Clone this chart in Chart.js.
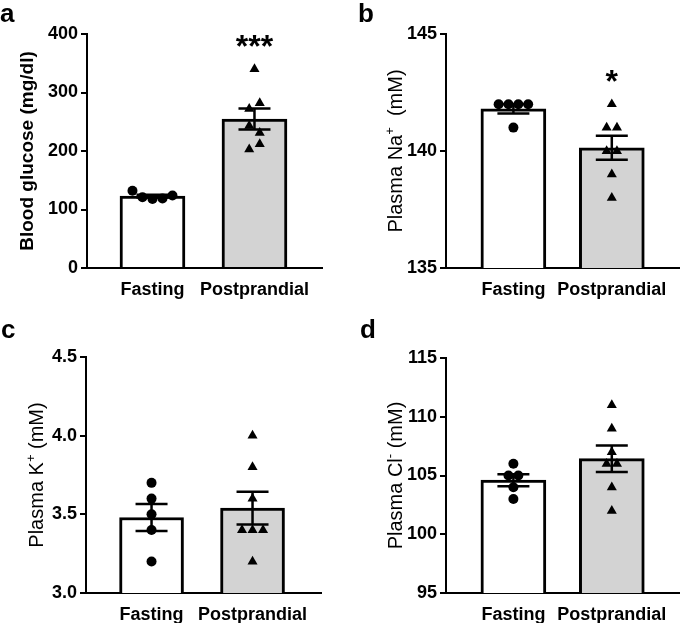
<!DOCTYPE html>
<html><head><meta charset="utf-8">
<script src="https://cdn.jsdelivr.net/npm/chart.js@4.4.1/dist/chart.umd.min.js"></script>
<style>
html,body{margin:0;padding:0;background:#fff;}
#wrap{position:relative;width:685px;height:623px;overflow:hidden;background:#fff;}
canvas{position:absolute;}
.lbl{position:absolute;font:bold 26px "Liberation Sans",Arial,sans-serif;color:#000;line-height:26px;}
</style></head><body>
<div id="wrap">
  <canvas id="cA" style="left:0;top:0"></canvas>
  <canvas id="cB" style="left:342px;top:0"></canvas>
  <canvas id="cC" style="left:0;top:300px"></canvas>
  <canvas id="cD" style="left:342px;top:300px"></canvas>
  <div class="lbl" style="left:0;top:0">a</div>
  <div class="lbl" style="left:358px;top:0">b</div>
  <div class="lbl" style="left:1px;top:316px">c</div>
  <div class="lbl" style="left:360px;top:316px">d</div>
</div>
<script>
// ---------- data ----------
const CATEGORIES = ['Fasting', 'Postprandial'];

// a: blood glucose (mg/dl)
const GLU_FASTING = [132, 121, 118, 119, 124];
const GLU_POST = [340, 272, 282, 243, 231, 203, 212];
const GLU_MEAN = [122.8, 254.7];
const GLU_SEM = [2.5, 17.9];
const GLU_TICKS = [0, 100, 200, 300, 400];
const GLU_SIG = ['', '***'];
const GLU_TITLE = [{t: 'Blood glucose (mg/dl)'}];

// b: plasma Na+ (mM)
const NA_FASTING = [142, 142, 142, 142, 141];
const NA_POST = [142, 141, 141, 140, 140, 139, 138];
const NA_MEAN = [141.8, 140.14];
const NA_SEM = [0.2, 0.51];
const NA_TICKS = [135, 140, 145];
const NA_SIG = ['', '*'];
const NA_TITLE = [{t: 'Plasma Na'}, {t: '+', sup: true}, {t: '  (mM)'}];

// c: plasma K+ (mM)
const K_FASTING = [3.7, 3.6, 3.5, 3.4, 3.2];
const K_POST = [4.0, 3.8, 3.6, 3.4, 3.4, 3.4, 3.2];
const K_MEAN = [3.48, 3.54];
const K_SEM = [0.086, 0.104];
const K_TICKS = [3.0, 3.5, 4.0, 4.5];
const K_SIG = ['', ''];
const K_TITLE = [{t: 'Plasma K'}, {t: '+', sup: true}, {t: ' (mM)'}];

// d: plasma Cl- (mM)
const CL_FASTING = [106, 105, 105, 104, 103];
const CL_POST = [111, 109, 107, 106, 106, 104, 102];
const CL_MEAN = [104.6, 106.43];
const CL_SEM = [0.51, 1.13];
const CL_TICKS = [95, 100, 105, 110, 115];
const CL_SIG = ['', ''];
const CL_TITLE = [{t: 'Plasma Cl'}, {t: '-', sup: true}, {t: ' (mM)'}];

// ---------- layout ----------
const FONT = '"Liberation Sans", Arial, sans-serif';
Chart.defaults.font.family = FONT;

const PANELS = [
  {id: 'cA', w: 342, h: 312, area: {l: 87, r: 322, t: 34, b: 268}, xr: [0.358, 2.662], barW: 65,
   fasting: GLU_FASTING, post: GLU_POST, mean: GLU_MEAN, sem: GLU_SEM, ticks: GLU_TICKS, sig: GLU_SIG,
   title: GLU_TITLE, titleOff: 54, titleBold: true, titleSize: 19, fmt: v => String(v)},
  {id: 'cB', w: 343, h: 312, area: {l: 104, r: 341, t: 34, b: 268}, xr: [0.315, 2.685], barW: 65,
   fasting: NA_FASTING, post: NA_POST, mean: NA_MEAN, sem: NA_SEM, ticks: NA_TICKS, sig: NA_SIG,
   title: NA_TITLE, titleOff: 44, titleBold: false, titleSize: 20, fmt: v => String(v)},
  {id: 'cC', w: 342, h: 323, area: {l: 86, r: 321, t: 57, b: 293}, xr: [0.351, 2.678], barW: 64,
   fasting: K_FASTING, post: K_POST, mean: K_MEAN, sem: K_SEM, ticks: K_TICKS, sig: K_SIG,
   title: K_TITLE, titleOff: 43, titleBold: false, titleSize: 20, fmt: v => v.toFixed(1)},
  {id: 'cD', w: 343, h: 323, area: {l: 104, r: 341, t: 58, b: 293}, xr: [0.315, 2.685], barW: 65,
   fasting: CL_FASTING, post: CL_POST, mean: CL_MEAN, sem: CL_SEM, ticks: CL_TICKS, sig: CL_SIG,
   title: CL_TITLE, titleOff: 44, titleBold: false, titleSize: 20, fmt: v => String(v)}
];

// Beeswarm-like arrangement: values closer than 10 px share a row, spread side by side
function swarm(values, center, pxX, pxY, d) {
  const order = values.map((v, i) => i).sort((a, b) => values[b] - values[a]);
  const rows = [];
  order.forEach(i => {
    const last = rows[rows.length - 1];
    if (last && Math.abs(values[last[last.length - 1]] - values[i]) * pxY < 10) last.push(i);
    else rows.push([i]);
  });
  const out = new Array(values.length);
  rows.forEach(r => {
    r.sort((a, b) => a - b);
    r.forEach((i, k) => {
      out[i] = {x: center + (k - (r.length - 1) / 2) * d / pxX, y: values[i]};
    });
  });
  return out;
}

const errPlugin = {
  id: 'errbars',
  afterDatasetDraw(chart, args) {
    const ds = chart.data.datasets[args.index];
    if (!ds.sem) return;
    const ctx = chart.ctx, y = chart.scales.y;
    ctx.save();
    ctx.strokeStyle = '#000';
    ctx.lineWidth = 2.5;
    args.meta.data.forEach((bar, i) => {
      const m = ds.data[i].y, s = ds.sem[i];
      const yT = y.getPixelForValue(m + s), yB = y.getPixelForValue(m - s);
      const x = bar.x, hw = 16;
      ctx.beginPath();
      ctx.moveTo(x, yT); ctx.lineTo(x, yB);
      ctx.moveTo(x - hw, yT); ctx.lineTo(x + hw, yT);
      ctx.moveTo(x - hw, yB); ctx.lineTo(x + hw, yB);
      ctx.stroke();
    });
    ctx.restore();
  }
};

const titlePlugin = {
  id: 'richTitle',
  afterDraw(chart, args, o) {
    const ctx = chart.ctx, a = chart.chartArea;
    const w = o.bold ? 'bold ' : '';
    const S = o.size, sS = Math.round(S * 0.65);
    const fN = w + S + 'px ' + FONT, fS = w + sS + 'px ' + FONT;
    let total = 0;
    o.parts.forEach(p => { ctx.font = p.sup ? fS : fN; p.w = ctx.measureText(p.t).width; total += p.w; });
    ctx.save();
    ctx.translate(a.left - o.off, (a.top + a.bottom) / 2);
    ctx.rotate(-Math.PI / 2);
    ctx.fillStyle = '#000';
    ctx.textBaseline = 'alphabetic';
    ctx.textAlign = 'left';
    let x = -total / 2;
    o.parts.forEach(p => {
      ctx.font = p.sup ? fS : fN;
      ctx.fillText(p.t, x, p.sup ? -S * 0.42 : 0);
      x += p.w;
    });
    ctx.restore();
  }
};

const sigPlugin = {
  id: 'sig',
  afterDraw(chart, args, o) {
    const ctx = chart.ctx, y = chart.scales.y;
    const bars = chart.getDatasetMeta(2).data;
    ctx.save();
    ctx.fillStyle = '#000';
    ctx.font = 'bold 32px ' + FONT;
    ctx.textAlign = 'center';
    ctx.textBaseline = 'alphabetic';
    o.text.forEach((t, i) => {
      if (!t) return;
      const top = Math.max(...o.groups[i]);
      const cy = y.getPixelForValue(top) - 31;
      ctx.fillText(t, bars[i].x, cy + 18.5);
    });
    ctx.restore();
  }
};

function makeChart(p) {
  const pxX = (p.area.r - p.area.l) / (p.xr[1] - p.xr[0]);
  const yMin = p.ticks[0], yMax = p.ticks[p.ticks.length - 1];
  const pxY = (p.area.b - p.area.t) / (yMax - yMin);
  const c = document.getElementById(p.id);
  c.width = p.w; c.height = p.h;
  c.style.width = p.w + 'px'; c.style.height = p.h + 'px';
  new Chart(c, {
    type: 'bar',
    data: {
      datasets: [
        {type: 'scatter', data: swarm(p.fasting, 1, pxX, pxY, 10), pointStyle: 'circle', pointRadius: 5,
         backgroundColor: '#000', borderWidth: 0, order: 0},
        {type: 'scatter', data: swarm(p.post, 2, pxX, pxY, 10.5), pointStyle: 'triangle', pointRadius: 5.8,
         backgroundColor: '#000', borderWidth: 0, order: 0},
        {type: 'bar', data: p.mean.map((m, i) => ({x: i + 1, y: m})), sem: p.sem,
         backgroundColor: ['#ffffff', '#d3d3d3'], borderColor: '#000', borderWidth: 3,
         borderSkipped: 'start', barThickness: p.barW, order: 1}
      ]
    },
    options: {
      responsive: false, animation: false, events: [], devicePixelRatio: 1,
      layout: {padding: {left: 0, top: p.area.t, right: p.w - p.area.r, bottom: 0}},
      plugins: {
        legend: {display: false}, tooltip: {enabled: false},
        richTitle: {parts: p.title, off: p.titleOff, bold: p.titleBold, size: p.titleSize},
        sig: {text: p.sig, groups: [p.fasting, p.post]}
      },
      scales: {
        x: {
          type: 'linear', min: p.xr[0], max: p.xr[1], z: 1, offset: false, bounds: 'data',
          grid: {display: false, offset: false},
          border: {display: true, color: '#000', width: 2},
          afterBuildTicks: s => { s.ticks = CATEGORIES.map((c, i) => ({value: i + 1})); },
          afterFit: s => { s.height = p.h - p.area.b; },
          ticks: {padding: 3, color: '#000', font: {size: 18, weight: 'bold'}, maxRotation: 0, autoSkip: false,
                  callback: v => CATEGORIES[Math.round(v) - 1]}
        },
        y: {
          type: 'linear', min: yMin, max: yMax, z: 1,
          afterBuildTicks: s => { s.ticks = p.ticks.map(v => ({value: v})); },
          afterFit: s => { s.width = p.area.l; },
          grid: {display: true, drawOnChartArea: false, drawTicks: true, tickLength: 6, lineWidth: 2, color: '#000'},
          border: {display: true, color: '#000', width: 2},
          ticks: {padding: 3, color: '#000', font: {size: 18, weight: 'bold'}, callback: v => p.fmt(v)}
        }
      }
    },
    plugins: [errPlugin, titlePlugin, sigPlugin]
  });
}

PANELS.forEach(makeChart);
</script>
</body></html>
